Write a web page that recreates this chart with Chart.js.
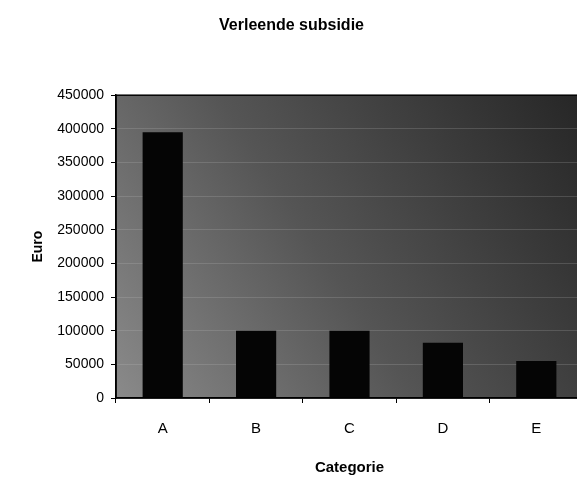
<!DOCTYPE html>
<html>
<head>
<meta charset="utf-8">
<script src="https://cdn.jsdelivr.net/npm/chart.js@4.4.1/dist/chart.umd.min.js"></script>
<style>
  html, body { margin: 0; padding: 0; background: #fff; overflow: hidden; }
  #wrap { width: 590px; height: 479px; }
</style>
</head>
<body>
<div id="wrap"><canvas id="barChart"></canvas></div>
<script>
// Verleende subsidie per categorie
const categories = ['A', 'B', 'C', 'D', 'E'];
const subsidie = [395000, 100000, 100000, 82000, 55000];
const yMax = 450000;
const yStep = 50000;

// grijze achtergrond van het plotvlak + kader
const plotArea = {
  id: 'plotArea',
  beforeDraw(chart) {
    const { ctx, chartArea: a } = chart;
    const g = ctx.createLinearGradient(a.left, a.bottom, a.right, a.top);
    g.addColorStop(0, '#8a8a8a');
    g.addColorStop(0.45, '#555555');
    g.addColorStop(1, '#262626');
    ctx.save();
    ctx.fillStyle = g;
    ctx.fillRect(a.left, a.top, a.right - a.left, a.bottom - a.top);
    ctx.restore();
  },
  afterDraw(chart) {
    const { ctx, chartArea: a } = chart;
    ctx.save();
    ctx.strokeStyle = '#000';
    ctx.lineWidth = 1.5;
    ctx.strokeRect(a.left, a.top, a.right - a.left, a.bottom - a.top);
    ctx.restore();
  }
};

Chart.defaults.font.family = '"Liberation Sans", Arial, sans-serif';
Chart.defaults.color = '#000';

const ctx = document.getElementById('barChart').getContext('2d');
new Chart(ctx, {
  type: 'bar',
  data: {
    labels: categories,
    datasets: [{
      label: 'Euro',
      data: subsidie,
      backgroundColor: '#050505',
      barPercentage: 0.43,
      categoryPercentage: 1
    }]
  },
  options: {
    responsive: true,
    maintainAspectRatio: false,
    animation: false,
    layout: { padding: { left: 0, right: 7, top: 0, bottom: 0 } },
    plugins: {
      legend: { display: false },
      tooltip: { enabled: false },
      title: {
        display: true,
        text: 'Verleende subsidie',
        font: { size: 16, weight: 'bold' },
        padding: { top: 16, bottom: 60 }
      }
    },
    scales: {
      x: {
        offset: true,
        afterFit: s => { s.height = 81; },
        grid: { offset: true, drawOnChartArea: false, tickLength: 5, tickColor: '#000' },
        border: { color: '#000', width: 1.5 },
        ticks: { font: { size: 15 }, padding: 17 },
        title: {
          display: true,
          text: 'Categorie',
          font: { size: 15, weight: 'bold' },
          padding: { top: 0, bottom: 2 }
        }
      },
      y: {
        min: 0,
        max: yMax,
        afterFit: s => { s.width = 116; },
        grid: { color: 'rgba(200,200,200,0.2)', tickLength: 5, tickColor: '#000' },
        border: { color: '#000', width: 1.5 },
        ticks: {
          stepSize: yStep,
          font: { size: 14 },
          padding: 7,
          callback: v => String(v)
        },
        title: {
          display: true,
          text: 'Euro',
          font: { size: 14, weight: 'bold' },
          padding: { top: 30, bottom: 0 }
        }
      }
    }
  },
  plugins: [plotArea]
});
</script>
</body>
</html>
